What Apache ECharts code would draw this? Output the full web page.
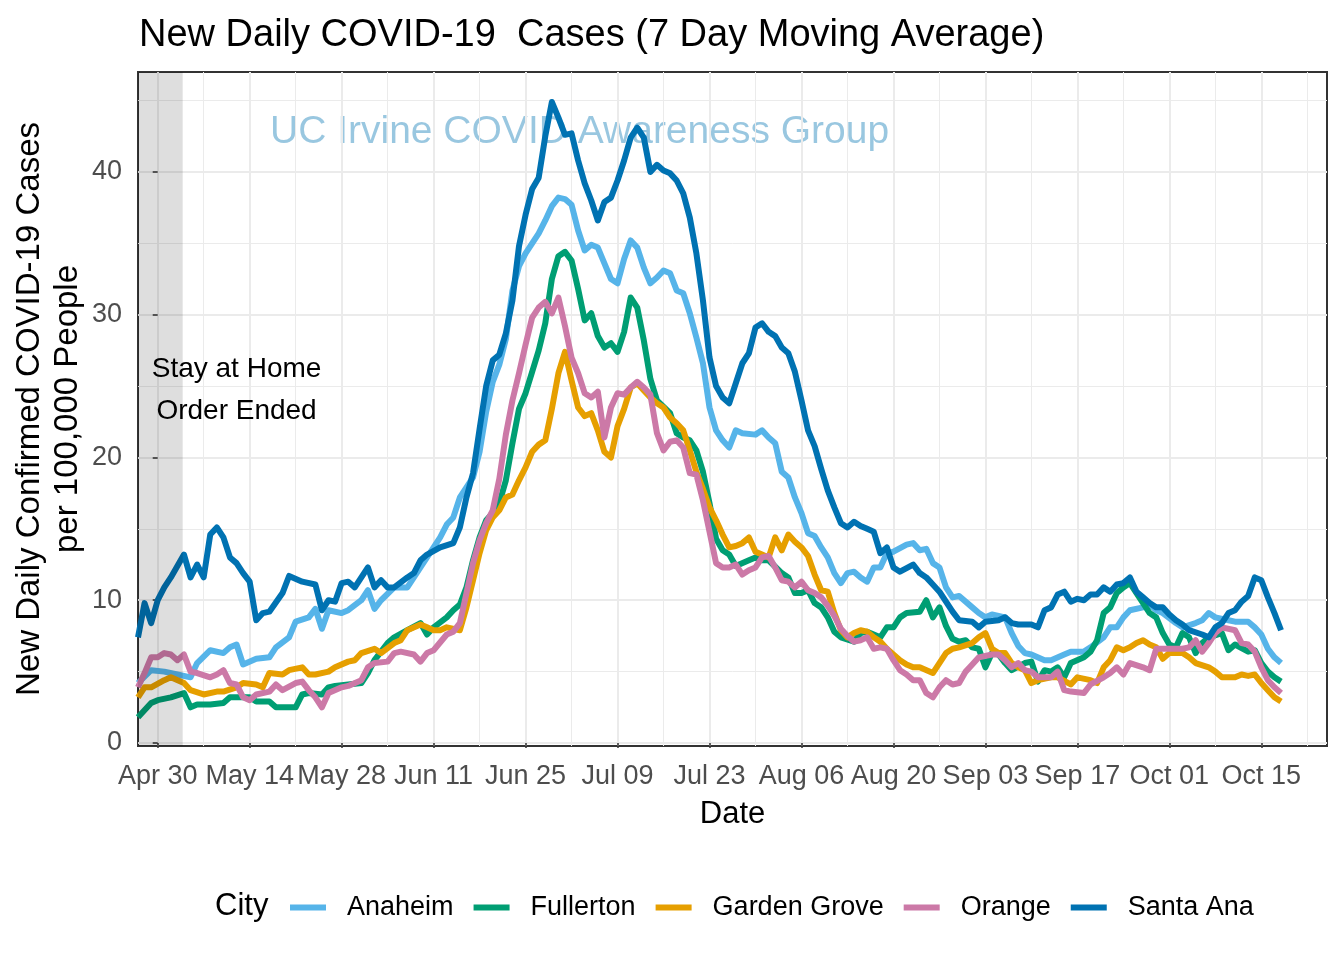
<!DOCTYPE html>
<html>
<head>
<meta charset="utf-8">
<script src="https://cdn.jsdelivr.net/npm/echarts@6/dist/echarts.min.js"></script>
<style>html,body{margin:0;padding:0;background:#fff;}#chart{width:1344px;height:960px;}</style>
</head>
<body>
<div id="chart"></div>
<script>
// x values are days after 2020-04-30 (Apr 30 = 0)
const cities = ['Anaheim', 'Fullerton', 'Garden Grove', 'Orange', 'Santa Ana'];
const cityColors = ['#56B4E9', '#009E73', '#E69F00', '#CC79A7', '#0072B2'];

const xTickDays = [0, 14, 28, 42, 56, 70, 84, 98, 112, 126, 140, 154, 168];
const xTickLabels = ['Apr 30', 'May 14', 'May 28', 'Jun 11', 'Jun 25', 'Jul 09', 'Jul 23', 'Aug 06', 'Aug 20', 'Sep 03', 'Sep 17', 'Oct 01', 'Oct 15'];
const xMinorDays = [7, 21, 35, 49, 63, 77, 91, 105, 119, 133, 147, 161, 175];
const yTicks = [0, 10, 20, 30, 40];
const yMinor = [5, 15, 25, 35, 45];
const xMin = -3, xMax = 178;
const yMin = -0.21, yMax = 47.0;
const stayHomeEnd = 3.8;          // end of shaded "stay at home" period
const noteX = 12, noteY = 24.7;   // annotation position (data units)

const anaheimDays = [-3,-1,1,3,5,6,8,10,11,12,13,15,17,18,20,21,23,24,25,26,28,29,31,32,33,34,36,38,40,41,43,44,45,46,48,49,50,51,52,53,54,55,56,57,58,59,60,61,62,63,64,65,66,67,68,69,70,71,72,73,74,75,76,77,78,79,80,81,82,83,84,85,86,87,88,89,91,92,93,94,95,96,97,98,99,100,101,102,103,104,105,106,107,108,109,110,111,112,114,115,116,117,118,119,120,121,122,124,125,126,127,129,130,131,132,133,135,136,138,139,141,142,144,145,146,147,148,150,151,152,153,155,156,158,159,160,161,163,164,166,167,168,169,170,171];
const anaheimVals = [4.2,5.1,5.0,4.8,4.6,5.6,6.5,6.3,6.7,6.9,5.5,5.9,6.0,6.7,7.4,8.5,8.8,9.4,8.0,9.3,9.1,9.3,10.0,10.7,9.4,10.0,10.9,10.9,12.3,13.0,14.4,15.3,15.8,17.2,18.6,20.4,23.2,25.3,26.5,28.3,31.7,33.4,34.3,35.0,35.7,36.6,37.6,38.2,38.1,37.7,35.9,34.5,34.9,34.7,33.6,32.5,32.2,33.9,35.2,34.7,33.3,32.2,32.6,33.1,32.9,31.7,31.5,30.1,28.4,26.6,23.5,21.9,21.2,20.7,21.9,21.7,21.6,21.9,21.4,21.0,19.0,18.6,17.2,16.1,14.7,14.5,13.7,13.0,11.9,11.2,11.9,12.0,11.6,11.3,12.3,12.3,13.3,13.4,13.9,14.0,13.5,13.6,12.6,12.3,10.9,10.2,10.3,9.5,9.1,8.8,9.0,8.8,7.7,6.8,6.3,6.2,5.8,5.8,6.2,6.4,6.4,6.7,7.4,8.1,8.1,8.8,9.3,9.5,9.7,9.3,9.1,8.4,8.1,8.4,8.6,9.1,8.8,8.6,8.5,8.5,8.1,7.6,6.6,6.0,5.6];

const fullertonDays = [-3,-1,0,2,4,5,6,8,10,11,14,15,17,18,21,22,23,25,26,27,29,31,32,33,35,36,38,40,41,42,44,45,46,47,48,49,50,51,52,53,54,55,56,57,58,59,60,61,62,63,64,65,66,67,68,69,70,71,72,73,74,75,76,78,79,80,81,82,83,84,85,86,87,88,90,91,92,93,95,96,97,98,99,100,101,102,103,104,106,107,108,110,111,112,113,114,116,117,118,119,120,121,122,123,124,125,126,127,128,129,130,132,133,134,135,136,137,138,139,141,142,143,144,145,146,147,148,149,150,151,152,153,154,155,156,157,158,159,160,162,163,164,166,167,168,169,170,171];
const fullertonVals = [1.8,2.8,3.0,3.2,3.5,2.5,2.7,2.7,2.8,3.2,3.2,2.9,2.9,2.5,2.5,3.4,3.5,3.4,3.9,4.0,4.1,4.2,4.9,5.8,7.0,7.4,7.9,8.4,7.6,8.1,8.8,9.3,9.7,10.9,12.8,14.4,15.6,16.1,16.8,18.4,21.0,23.4,24.5,26.0,27.5,29.4,32.5,34.1,34.4,33.8,31.8,29.6,30.1,28.5,27.7,28.0,27.4,28.8,31.2,30.5,28.2,25.5,24.0,23.1,21.7,21.4,21.2,20.5,19.0,16.8,14.3,13.5,13.2,12.4,12.8,13.0,12.8,12.8,11.9,11.6,10.5,10.5,10.7,9.8,9.5,8.8,7.8,7.4,7.1,7.7,7.8,7.4,8.1,8.1,8.8,9.1,9.2,10.0,8.8,9.5,8.2,7.3,7.1,7.2,6.7,6.6,5.3,6.3,6.2,5.6,5.1,5.6,5.7,4.3,5.1,5.0,5.3,4.6,5.6,6.0,6.4,7.2,9.1,9.5,10.5,10.9,11.2,10.5,9.8,9.1,8.8,7.7,6.9,6.7,7.7,7.4,6.3,7.0,7.4,7.7,6.5,6.9,6.4,6.5,5.6,5.0,4.6,4.3];

const gardenGroveDays = [-3,-2,-1,1,2,4,5,7,9,10,12,13,15,16,17,19,20,22,23,24,26,27,29,30,31,33,34,36,37,38,40,41,42,43,44,46,47,48,49,50,51,52,53,54,55,56,57,58,59,60,61,62,63,64,65,66,67,68,69,70,71,72,73,74,75,76,77,78,79,80,81,82,83,84,85,86,87,88,89,90,91,92,93,94,95,96,97,98,99,100,101,102,103,104,105,106,107,108,109,110,111,112,113,114,115,116,118,119,120,121,122,124,125,126,127,128,129,130,131,132,133,134,136,137,139,140,142,143,144,145,146,147,148,149,150,151,152,153,154,156,157,158,160,161,162,164,165,166,167,168,169,170,171];
const gardenGroveVals = [3.2,3.9,3.9,4.4,4.6,4.2,3.7,3.4,3.6,3.6,3.9,4.2,4.1,3.9,4.9,4.8,5.1,5.3,4.8,4.8,5.0,5.3,5.7,5.8,6.3,6.6,6.3,7.0,7.2,7.9,8.3,8.1,7.9,7.9,8.1,7.9,9.5,11.4,13.3,14.9,15.8,16.3,17.2,17.4,18.4,19.3,20.4,20.9,21.2,23.4,25.9,27.4,25.4,23.5,22.9,23.1,21.9,20.4,20.0,22.2,23.4,24.9,25.2,24.7,24.2,23.8,23.5,22.8,22.4,21.9,20.5,19.0,17.8,16.5,15.6,14.6,13.7,13.8,14.0,14.4,13.4,13.2,13.0,14.4,13.5,14.6,14.1,13.7,13.1,11.8,10.7,10.6,9.1,7.9,7.4,7.7,7.9,7.8,7.4,7.1,6.6,6.2,5.8,5.5,5.3,5.3,4.9,5.6,6.3,6.6,6.7,7.0,7.4,7.7,6.6,6.3,6.3,5.6,5.3,5.1,4.2,4.4,4.6,4.6,4.1,4.6,4.4,4.2,5.3,5.8,6.7,6.5,6.7,7.0,7.2,6.9,6.7,5.9,6.3,6.3,6.0,5.6,5.3,5.0,4.6,4.6,4.8,4.7,4.8,4.2,3.7,3.2,2.9];

const orangeDays = [-3,-2,-1,0,1,2,3,4,5,6,8,9,10,11,12,13,14,15,17,18,19,21,22,23,24,25,26,28,29,31,32,33,35,36,37,39,40,41,42,44,45,46,47,48,49,50,51,52,53,54,55,56,57,58,59,60,61,62,63,64,65,66,67,68,69,70,71,72,73,74,75,76,77,78,79,80,81,82,83,84,85,86,87,88,89,90,91,92,93,94,95,96,97,98,99,100,101,102,103,104,105,106,107,108,109,110,111,112,113,114,115,116,117,118,119,120,121,122,123,124,125,127,128,129,130,131,132,133,134,136,137,138,139,141,142,144,145,146,147,148,150,151,152,154,155,156,157,158,159,160,161,162,164,165,166,167,168,169,170,171];
const orangeVals = [3.9,4.9,6.0,6.0,6.3,6.2,5.8,6.2,5.0,4.9,4.6,4.8,5.1,4.2,4.1,3.2,3.0,3.4,3.6,4.1,3.7,4.2,4.3,3.7,3.2,2.5,3.5,3.9,4.0,4.4,5.3,5.6,5.7,6.3,6.4,6.2,5.7,6.3,6.5,7.6,7.8,8.4,10.5,12.6,14.2,15.4,16.3,18.5,21.6,24.0,25.9,27.9,29.8,30.5,30.9,30.1,31.2,29.2,27.0,25.9,24.5,24.2,24.6,21.4,23.5,24.5,24.4,24.9,25.3,24.9,24.4,21.7,20.5,21.1,21.2,20.7,18.9,18.8,17.0,14.8,12.6,12.3,12.3,12.5,11.8,12.1,12.3,13.0,13.1,12.3,11.4,11.3,10.9,11.3,10.7,10.5,10.2,9.6,8.9,8.0,7.5,7.1,7.2,7.4,6.6,6.7,6.6,5.8,5.1,4.8,4.4,4.4,3.5,3.2,3.9,4.4,4.1,4.2,5.0,5.5,6.0,6.2,6.2,5.8,5.3,5.6,5.1,5.0,4.6,4.6,5.0,3.7,3.6,3.5,4.1,4.6,4.9,5.3,4.8,5.6,5.3,5.1,6.6,6.6,6.6,6.6,6.7,7.2,6.4,7.0,7.7,8.1,7.9,7.0,6.9,6.4,5.3,4.4,3.9,3.5];

const santaAnaDays = [-3,-2,-1,0,1,2,4,5,6,7,8,9,10,11,12,13,14,15,16,17,19,20,22,24,25,26,27,28,29,30,32,33,34,35,36,38,39,40,41,43,45,46,47,48,49,50,51,52,53,54,55,56,57,58,59,60,61,62,63,64,65,66,67,68,69,70,71,72,73,74,75,76,77,78,79,80,81,82,83,84,85,86,87,88,89,90,91,92,93,94,95,96,97,98,99,100,101,102,103,104,105,106,107,108,109,110,111,112,113,115,116,117,118,119,120,121,122,124,125,126,128,129,130,131,133,134,135,136,137,138,139,140,141,142,143,144,145,146,147,148,149,150,151,152,153,154,155,156,157,159,160,161,162,163,164,165,166,167,168,169,170,171];
const santaAnaVals = [7.4,9.8,8.4,10.0,10.9,11.6,13.2,11.6,12.5,11.6,14.6,15.1,14.4,13.0,12.6,11.9,11.3,8.6,9.1,9.2,10.5,11.7,11.3,11.1,9.3,10.0,9.9,11.2,11.3,10.9,12.3,10.9,11.4,10.9,10.9,11.6,11.9,12.8,13.2,13.7,14.0,15.1,17.2,18.9,22.0,25.0,26.8,27.2,28.7,31.0,34.8,37.0,38.8,39.6,42.5,44.9,43.8,42.6,42.7,40.8,39.2,38.0,36.6,37.9,38.2,39.4,40.8,42.4,43.1,42.4,40.0,40.5,40.1,39.9,39.4,38.5,36.8,34.3,31.0,27.0,25.0,24.2,23.8,25.2,26.6,27.3,29.1,29.4,28.8,28.5,27.7,27.3,26.0,24.0,21.9,20.8,19.2,17.7,16.5,15.4,15.1,15.5,15.2,15.0,14.8,13.3,13.7,12.3,12.0,12.5,11.9,11.6,11.1,10.6,9.9,9.2,8.6,8.5,8.1,8.5,8.6,8.8,8.4,8.3,8.3,8.1,9.3,9.5,10.4,10.6,9.9,10.1,10.0,10.4,10.4,10.9,10.6,11.1,11.2,11.6,10.6,10.2,9.8,9.5,9.5,9.0,8.6,8.3,7.9,7.6,7.4,8.1,8.4,9.1,9.3,9.9,10.3,11.6,11.4,10.2,9.1,7.9,7.4];

const seriesDays = [anaheimDays, fullertonDays, gardenGroveDays, orangeDays, santaAnaDays];
const seriesVals = [anaheimVals, fullertonVals, gardenGroveVals, orangeVals, santaAnaVals];

const FONT = '"Liberation Sans", Arial, Helvetica, sans-serif';
const chart = echarts.init(document.getElementById('chart'), null, {renderer: 'canvas'});

const lineSeries = cities.map((c, k) => ({
  name: c,
  type: 'line',
  data: seriesDays[k].map((d, i) => [d, seriesVals[k][i]]),
  showSymbol: false,
  symbol: 'none',
  lineStyle: {color: cityColors[k], width: 6, join: 'round'},
  itemStyle: {color: cityColors[k]},
  z: 2 + k * 0.01,
  animation: false
}));

const overlaySeries = {
  name: 'overlay',
  type: 'line',
  data: [],
  z: 10,
  markArea: {
    silent: true,
    z: 10,
    itemStyle: {color: 'rgba(0,0,0,0.13)'},
    data: [[{xAxis: xMin}, {xAxis: stayHomeEnd}]]
  },
  markPoint: {
    silent: true,
    z: 11,
    symbol: 'circle',
    symbolSize: 1,
    itemStyle: {color: 'rgba(0,0,0,0)'},
    label: {show: true, position: 'inside', formatter: 'Stay at Home\nOrder Ended', fontSize: 28, lineHeight: 42, color: '#000', fontFamily: FONT},
    data: [{coord: [noteX, noteY]}]
  }
};

const option = {
  animation: false,
  textStyle: {fontFamily: FONT},
  title: {
    text: 'New Daily COVID-19  Cases (7 Day Moving Average)',
    left: 134, top: 12,
    textStyle: {fontSize: 38, fontWeight: 'normal', color: '#000', fontFamily: FONT}
  },
  grid: {left: 138, right: 17, top: 72, bottom: 214, show: true, borderColor: '#333333', borderWidth: 2, backgroundColor: '#fff', containLabel: false, outerBoundsMode: 'none'},
  legend: {
    data: cities,
    left: 285, top: 889,
    icon: 'rect', itemWidth: 36, itemHeight: 6, itemGap: 20,
    textStyle: {fontSize: 27, color: '#000', fontFamily: FONT, padding: [0, 0, 0, 16]}
  },
  graphic: [
    {type: 'text', left: 215, top: 891, z: 5, style: {text: 'City', fontSize: 31, fill: '#000', fontFamily: FONT}},
    {type: 'text', left: 270, top: 113, z: 0, style: {text: 'UC Irvine COVID Awareness Group', fontSize: 39, fill: 'rgba(0,114,178,0.4)', fontFamily: FONT}}
  ],
  xAxis: [
    {
      type: 'value', min: xMin, max: xMax, position: 'bottom',
      axisLine: {show: false},
      axisTick: {show: true, length: 5, lineStyle: {color: '#333333', width: 1.5}, customValues: xTickDays},
      axisLabel: {customValues: xTickDays, fontSize: 27, color: '#4D4D4D', margin: 17, fontFamily: FONT,
        formatter: v => xTickLabels[xTickDays.indexOf(v)]},
      splitLine: {show: true, lineStyle: {color: '#EBEBEB', width: 2}},
      name: 'Date', nameLocation: 'middle', nameGap: 53, nameMoveOverlap: false,
      nameTextStyle: {fontSize: 31, color: '#000', fontFamily: FONT}
    },
    {
      type: 'value', min: xMin, max: xMax, position: 'top',
      axisLine: {show: false},
      axisTick: {show: false, customValues: xMinorDays},
      axisLabel: {show: false, customValues: xMinorDays},
      splitLine: {show: true, lineStyle: {color: '#EBEBEB', width: 1}}
    }
  ],
  yAxis: [
    {
      type: 'value', min: yMin, max: yMax, position: 'left',
      axisLine: {show: false},
      axisTick: {show: true, length: 5, lineStyle: {color: '#333333', width: 1.5}, customValues: yTicks},
      axisLabel: {customValues: yTicks, fontSize: 27, color: '#4D4D4D', margin: 16, fontFamily: FONT},
      splitLine: {show: true, lineStyle: {color: '#EBEBEB', width: 2}},
      name: 'New Daily Confirmed COVID-19 Cases\nper 100,000 People',
      nameLocation: 'middle', nameRotate: 90, nameGap: 51, nameMoveOverlap: false,
      nameTextStyle: {fontSize: 33, lineHeight: 38, color: '#000', fontFamily: FONT, align: 'center'}
    },
    {
      type: 'value', min: yMin, max: yMax, position: 'right',
      axisLine: {show: false},
      axisTick: {show: false, customValues: yMinor},
      axisLabel: {show: false, customValues: yMinor},
      splitLine: {show: true, lineStyle: {color: '#EBEBEB', width: 1}}
    }
  ],
  series: lineSeries.concat([overlaySeries])
};
chart.setOption(option);
</script>
</body>
</html>
